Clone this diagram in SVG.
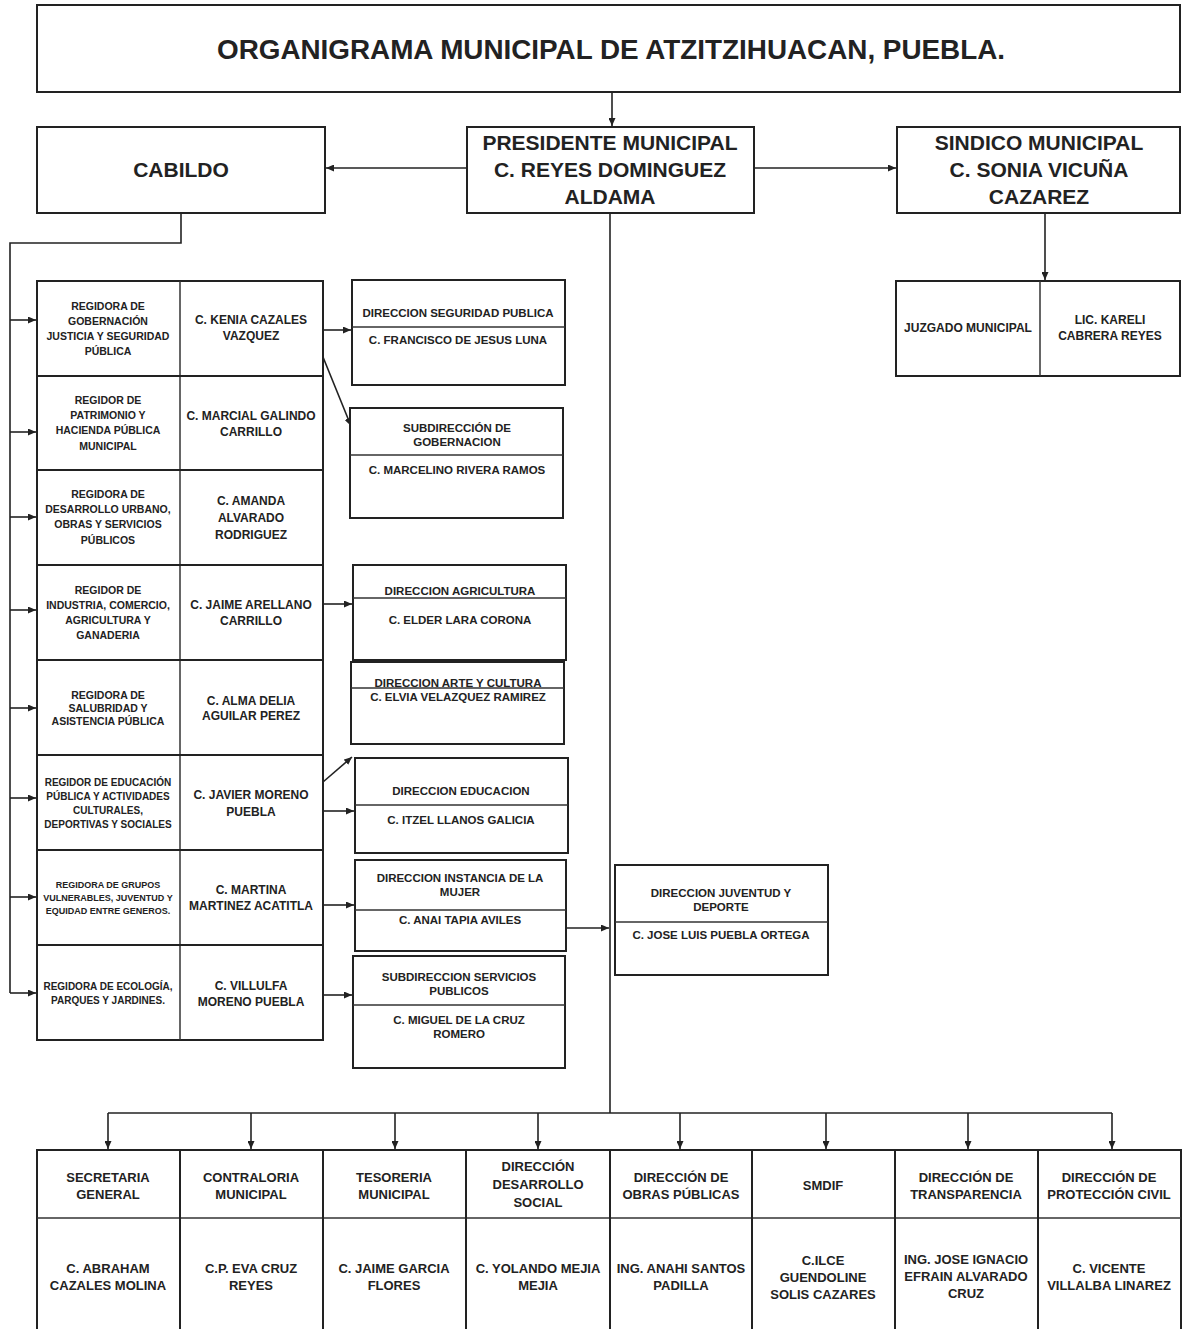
<svg xmlns="http://www.w3.org/2000/svg" width="1184" height="1329" viewBox="0 0 1184 1329">
<defs>
<marker id="ah" markerUnits="userSpaceOnUse" markerWidth="8" markerHeight="7" refX="8" refY="3.5" orient="auto">
<path d="M0,0 L8,3.5 L0,7 z" fill="#222"/>
</marker>
<style>
.box{fill:#fff;stroke:#222;stroke-width:2}
.dv{stroke:#333;stroke-width:1.5;fill:none}
.ln{stroke:#222;stroke-width:1.6;fill:none}
text{font-family:"Liberation Sans",Arial,sans-serif;font-weight:bold;fill:#222;text-anchor:middle}
.t0{font-size:27px}
.t1{font-size:21px}
.tl{font-size:10.5px}
.tn{font-size:12px}
.tm{font-size:11.5px}
.tb{font-size:13px}
</style>
</defs>
<rect width="1184" height="1329" fill="#fff"/>

<g id="connectors">
<path class="ln" d="M612 92 V126" marker-end="url(#ah)"/>
<path class="ln" d="M467 168 H326" marker-end="url(#ah)"/>
<path class="ln" d="M754 168 H896" marker-end="url(#ah)"/>
<path class="ln" d="M1045 213 V280" marker-end="url(#ah)"/>
<path class="ln" d="M181 213 V243 H10 V993"/>
<path class="ln" d="M10 320 H36" marker-end="url(#ah)"/>
<path class="ln" d="M10 432 H36" marker-end="url(#ah)"/>
<path class="ln" d="M10 517 H36" marker-end="url(#ah)"/>
<path class="ln" d="M10 610 H36" marker-end="url(#ah)"/>
<path class="ln" d="M10 708 H36" marker-end="url(#ah)"/>
<path class="ln" d="M10 798 H36" marker-end="url(#ah)"/>
<path class="ln" d="M10 897 H36" marker-end="url(#ah)"/>
<path class="ln" d="M10 993 H36" marker-end="url(#ah)"/>
<path class="ln" d="M323 330 H351" marker-end="url(#ah)"/>
<path class="ln" d="M323 357 L351 426" marker-end="url(#ah)"/>
<path class="ln" d="M323 604 H352" marker-end="url(#ah)"/>
<path class="ln" d="M323 782 L352 757" marker-end="url(#ah)"/>
<path class="ln" d="M323 811 H354" marker-end="url(#ah)"/>
<path class="ln" d="M323 905 H354" marker-end="url(#ah)"/>
<path class="ln" d="M323 995 H352" marker-end="url(#ah)"/>
<path class="ln" d="M566 928 H609" marker-end="url(#ah)"/>
<path class="ln" d="M610 213 V1113"/>
<path class="ln" d="M108 1113 H1112"/>
<path class="ln" d="M108 1113 V1149" marker-end="url(#ah)"/>
<path class="ln" d="M251 1113 V1149" marker-end="url(#ah)"/>
<path class="ln" d="M395 1113 V1149" marker-end="url(#ah)"/>
<path class="ln" d="M538 1113 V1149" marker-end="url(#ah)"/>
<path class="ln" d="M680 1113 V1149" marker-end="url(#ah)"/>
<path class="ln" d="M826 1113 V1149" marker-end="url(#ah)"/>
<path class="ln" d="M968 1113 V1149" marker-end="url(#ah)"/>
<path class="ln" d="M1112 1113 V1149" marker-end="url(#ah)"/>
</g>

<g id="titulo">
<rect class="box" x="37" y="5" width="1143" height="87"/>
<text class="t0" x="611" y="59" textLength="788" lengthAdjust="spacingAndGlyphs">ORGANIGRAMA MUNICIPAL DE ATZITZIHUACAN, PUEBLA.</text>
</g>

<g id="cabildo">
<rect class="box" x="37" y="127" width="288" height="86"/>
<text class="t1" x="181" y="177">CABILDO</text>
</g>

<g id="presidente">
<rect class="box" x="467" y="127" width="287" height="86"/>
<text class="t1" x="610" y="150">PRESIDENTE MUNICIPAL</text>
<text class="t1" x="610" y="177">C. REYES DOMINGUEZ</text>
<text class="t1" x="610" y="204">ALDAMA</text>
</g>

<g id="sindico">
<rect class="box" x="897" y="127" width="283" height="86"/>
<text class="t1" x="1039" y="150">SINDICO MUNICIPAL</text>
<text class="t1" x="1039" y="177">C. SONIA VICUÑA</text>
<text class="t1" x="1039" y="204">CAZAREZ</text>
</g>

<g id="juzgado">
<rect class="box" x="896" y="281" width="284" height="95"/>
<line class="dv" x1="1040" y1="281" x2="1040" y2="376"/>
<text class="tn" x="968" y="332">JUZGADO MUNICIPAL</text>
<text class="tn" x="1110" y="324">LIC. KARELI</text>
<text class="tn" x="1110" y="340">CABRERA REYES</text>
</g>

<g id="regidores">
<rect class="box" x="37" y="281" width="286" height="759"/>
<line class="dv" x1="180" y1="281" x2="180" y2="1040"/>
<line class="box" x1="37" y1="376" x2="323" y2="376"/>
<line class="box" x1="37" y1="470" x2="323" y2="470"/>
<line class="box" x1="37" y1="565" x2="323" y2="565"/>
<line class="box" x1="37" y1="660" x2="323" y2="660"/>
<line class="box" x1="37" y1="755" x2="323" y2="755"/>
<line class="box" x1="37" y1="850" x2="323" y2="850"/>
<line class="box" x1="37" y1="945" x2="323" y2="945"/>
</g>

<g id="regidor1">
<text class="tl" x="108" y="310">REGIDORA DE</text>
<text class="tl" x="108" y="325">GOBERNACIÓN</text>
<text class="tl" x="108" y="340">JUSTICIA Y SEGURIDAD</text>
<text class="tl" x="108" y="355">PÚBLICA</text>
<text class="tn" x="251" y="324">C. KENIA CAZALES</text>
<text class="tn" x="251" y="340">VAZQUEZ</text>
</g>
<g id="regidor2">
<text class="tl" x="108" y="404">REGIDOR DE</text>
<text class="tl" x="108" y="419">PATRIMONIO Y</text>
<text class="tl" x="108" y="434">HACIENDA PÚBLICA</text>
<text class="tl" x="108" y="450">MUNICIPAL</text>
<text class="tn" x="251" y="420">C. MARCIAL GALINDO</text>
<text class="tn" x="251" y="436">CARRILLO</text>
</g>
<g id="regidor3">
<text class="tl" x="108" y="498">REGIDORA DE</text>
<text class="tl" x="108" y="513">DESARROLLO URBANO,</text>
<text class="tl" x="108" y="528">OBRAS Y SERVICIOS</text>
<text class="tl" x="108" y="544">PÚBLICOS</text>
<text class="tn" x="251" y="505">C. AMANDA</text>
<text class="tn" x="251" y="522">ALVARADO</text>
<text class="tn" x="251" y="539">RODRIGUEZ</text>
</g>
<g id="regidor4">
<text class="tl" x="108" y="594">REGIDOR DE</text>
<text class="tl" x="108" y="609">INDUSTRIA, COMERCIO,</text>
<text class="tl" x="108" y="624">AGRICULTURA Y</text>
<text class="tl" x="108" y="639">GANADERIA</text>
<text class="tn" x="251" y="609">C. JAIME ARELLANO</text>
<text class="tn" x="251" y="625">CARRILLO</text>
</g>
<g id="regidor5">
<text class="tl" x="108" y="699">REGIDORA DE</text>
<text class="tl" x="108" y="712">SALUBRIDAD Y</text>
<text class="tl" x="108" y="725">ASISTENCIA PÚBLICA</text>
<text class="tn" x="251" y="705">C. ALMA DELIA</text>
<text class="tn" x="251" y="720">AGUILAR PEREZ</text>
</g>
<g id="regidor6">
<text class="tl" x="108" y="786" style="font-size:10px">REGIDOR DE EDUCACIÓN</text>
<text class="tl" x="108" y="800" style="font-size:10px">PÚBLICA Y ACTIVIDADES</text>
<text class="tl" x="108" y="814" style="font-size:10px">CULTURALES,</text>
<text class="tl" x="108" y="828" style="font-size:10px">DEPORTIVAS Y SOCIALES</text>
<text class="tn" x="251" y="799">C. JAVIER MORENO</text>
<text class="tn" x="251" y="816">PUEBLA</text>
</g>
<g id="regidor7">
<text class="tl" x="108" y="888" style="font-size:9px">REGIDORA DE GRUPOS</text>
<text class="tl" x="108" y="901" style="font-size:9px">VULNERABLES, JUVENTUD Y</text>
<text class="tl" x="108" y="914" style="font-size:9px">EQUIDAD ENTRE GENEROS.</text>
<text class="tn" x="251" y="894">C. MARTINA</text>
<text class="tn" x="251" y="910">MARTINEZ ACATITLA</text>
</g>
<g id="regidor8">
<text class="tl" x="108" y="990" style="font-size:10px">REGIDORA DE ECOLOGÍA,</text>
<text class="tl" x="108" y="1004" style="font-size:10px">PARQUES Y JARDINES.</text>
<text class="tn" x="251" y="990">C. VILLULFA</text>
<text class="tn" x="251" y="1006">MORENO PUEBLA</text>
</g>

<g id="dir-seguridad">
<rect class="box" x="352" y="280" width="213" height="105"/>
<line class="dv" x1="352" y1="327" x2="565" y2="327"/>
<text class="tm" x="458" y="317">DIRECCION SEGURIDAD PUBLICA</text>
<text class="tm" x="458" y="344">C. FRANCISCO DE JESUS LUNA</text>
</g>
<g id="subdir-gobernacion">
<rect class="box" x="350" y="408" width="213" height="110"/>
<line class="dv" x1="350" y1="455" x2="563" y2="455"/>
<text class="tm" x="457" y="432">SUBDIRECCIÓN DE</text>
<text class="tm" x="457" y="446">GOBERNACION</text>
<text class="tm" x="457" y="474">C. MARCELINO RIVERA RAMOS</text>
</g>
<g id="dir-agricultura">
<rect class="box" x="353" y="565" width="213" height="95"/>
<line class="dv" x1="353" y1="598" x2="566" y2="598"/>
<text class="tm" x="460" y="595">DIRECCION  AGRICULTURA</text>
<text class="tm" x="460" y="624">C. ELDER LARA CORONA</text>
</g>
<g id="dir-arte">
<rect class="box" x="351" y="662" width="213" height="82"/>
<line class="dv" x1="351" y1="688" x2="564" y2="688"/>
<text class="tm" x="458" y="687">DIRECCION ARTE Y CULTURA</text>
<text class="tm" x="458" y="701">C. ELVIA VELAZQUEZ RAMIREZ</text>
</g>
<g id="dir-educacion">
<rect class="box" x="355" y="758" width="213" height="95"/>
<line class="dv" x1="355" y1="805" x2="568" y2="805"/>
<text class="tm" x="461" y="795">DIRECCION EDUCACION</text>
<text class="tm" x="461" y="824">C. ITZEL LLANOS GALICIA</text>
</g>
<g id="dir-mujer">
<rect class="box" x="355" y="860" width="211" height="91"/>
<line class="dv" x1="355" y1="910" x2="566" y2="910"/>
<text class="tm" x="460" y="882">DIRECCION  INSTANCIA DE LA</text>
<text class="tm" x="460" y="896">MUJER</text>
<text class="tm" x="460" y="924">C. ANAI TAPIA AVILES</text>
</g>
<g id="subdir-servicios">
<rect class="box" x="353" y="956" width="212" height="112"/>
<line class="dv" x1="353" y1="1005" x2="565" y2="1005"/>
<text class="tm" x="459" y="981">SUBDIRECCION SERVICIOS</text>
<text class="tm" x="459" y="995">PUBLICOS</text>
<text class="tm" x="459" y="1024">C. MIGUEL DE LA CRUZ</text>
<text class="tm" x="459" y="1038">ROMERO</text>
</g>
<g id="dir-juventud">
<rect class="box" x="615" y="865" width="213" height="110"/>
<line class="dv" x1="615" y1="922" x2="828" y2="922"/>
<text class="tm" x="721" y="897">DIRECCION JUVENTUD Y</text>
<text class="tm" x="721" y="911">DEPORTE</text>
<text class="tm" x="721" y="939">C. JOSE LUIS PUEBLA ORTEGA</text>
</g>

<g id="areas">
<rect class="box" x="37" y="1150" width="1144" height="190"/>
<line class="dv" x1="37" y1="1218" x2="1181" y2="1218"/>
<line class="box" x1="180" y1="1150" x2="180" y2="1340"/>
<line class="box" x1="323" y1="1150" x2="323" y2="1340"/>
<line class="box" x1="466" y1="1150" x2="466" y2="1340"/>
<line class="box" x1="610" y1="1150" x2="610" y2="1340"/>
<line class="box" x1="752" y1="1150" x2="752" y2="1340"/>
<line class="box" x1="895" y1="1150" x2="895" y2="1340"/>
<line class="box" x1="1038" y1="1150" x2="1038" y2="1340"/>
</g>
<g id="secretaria">
<text class="tb" x="108" y="1182">SECRETARIA</text>
<text class="tb" x="108" y="1199">GENERAL</text>
<text class="tb" x="108" y="1273">C. ABRAHAM</text>
<text class="tb" x="108" y="1290">CAZALES MOLINA</text>
</g>
<g id="contraloria">
<text class="tb" x="251" y="1182">CONTRALORIA</text>
<text class="tb" x="251" y="1199">MUNICIPAL</text>
<text class="tb" x="251" y="1273">C.P. EVA CRUZ</text>
<text class="tb" x="251" y="1290">REYES</text>
</g>
<g id="tesoreria">
<text class="tb" x="394" y="1182">TESORERIA</text>
<text class="tb" x="394" y="1199">MUNICIPAL</text>
<text class="tb" x="394" y="1273">C. JAIME GARCIA</text>
<text class="tb" x="394" y="1290">FLORES</text>
</g>
<g id="desarrollo-social">
<text class="tb" x="538" y="1171">DIRECCIÓN</text>
<text class="tb" x="538" y="1189">DESARROLLO</text>
<text class="tb" x="538" y="1207">SOCIAL</text>
<text class="tb" x="538" y="1273">C. YOLANDO MEJIA</text>
<text class="tb" x="538" y="1290">MEJIA</text>
</g>
<g id="obras-publicas">
<text class="tb" x="681" y="1182">DIRECCIÓN DE</text>
<text class="tb" x="681" y="1199">OBRAS PÚBLICAS</text>
<text class="tb" x="681" y="1273">ING. ANAHI SANTOS</text>
<text class="tb" x="681" y="1290">PADILLA</text>
</g>
<g id="smdif">
<text class="tb" x="823" y="1190">SMDIF</text>
<text class="tb" x="823" y="1265">C.ILCE</text>
<text class="tb" x="823" y="1282">GUENDOLINE</text>
<text class="tb" x="823" y="1299">SOLIS CAZARES</text>
</g>
<g id="transparencia">
<text class="tb" x="966" y="1182">DIRECCIÓN DE</text>
<text class="tb" x="966" y="1199">TRANSPARENCIA</text>
<text class="tb" x="966" y="1264">ING. JOSE IGNACIO</text>
<text class="tb" x="966" y="1281">EFRAIN ALVARADO</text>
<text class="tb" x="966" y="1298">CRUZ</text>
</g>
<g id="proteccion-civil">
<text class="tb" x="1109" y="1182">DIRECCIÓN DE</text>
<text class="tb" x="1109" y="1199">PROTECCIÓN CIVIL</text>
<text class="tb" x="1109" y="1273">C. VICENTE</text>
<text class="tb" x="1109" y="1290">VILLALBA LINAREZ</text>
</g>
</svg>
